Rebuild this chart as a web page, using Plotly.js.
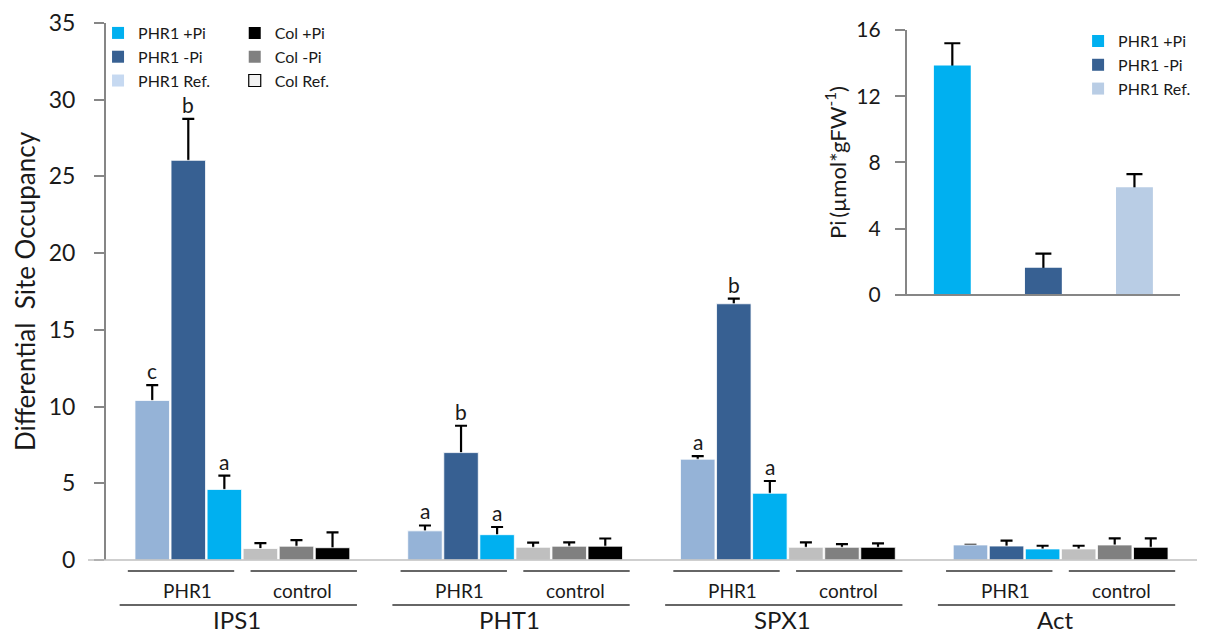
<!DOCTYPE html>
<html><head><meta charset="utf-8">
<script src="https://cdn.plot.ly/plotly-3.0.1.min.js"></script>
<style>html,body{margin:0;padding:0;background:#fff}</style>
</head><body><div id="chart" style="width:1210px;height:636px"></div>
<script>
// ---- data ----
const genes = ['IPS1', 'PHT1', 'SPX1', 'Act'];
const seriesNames = ['PHR1 Ref.', 'PHR1 -Pi', 'PHR1 +Pi', 'Col Ref.', 'Col -Pi', 'Col +Pi'];
const phr1Ref = [10.4, 1.9, 6.57, 0.98];
const phr1RefErr = [1.0, 0.35, 0.2, null];
const phr1Minus = [26.05, 7.0, 16.7, 0.91];
const phr1MinusErr = [2.7, 1.75, 0.33, 0.35];
const phr1Plus = [4.6, 1.65, 4.35, 0.72];
const phr1PlusErr = [0.9, 0.5, 0.8, 0.21];
const colRef = [0.75, 0.83, 0.83, 0.72];
const colRefErr = [0.35, 0.3, 0.32, 0.21];
const colMinus = [0.9, 0.9, 0.83, 0.98];
const colMinusErr = [0.4, 0.25, 0.21, 0.43];
const colPlus = [0.8, 0.9, 0.83, 0.83];
const colPlusErr = [1.0, 0.5, 0.26, 0.58];
const letters = [['c', 'b', 'a'], ['a', 'b', 'a'], ['a', 'b', 'a'], ['', '', '']];
const groupLabels = ['PHR1', 'control'];
const legendNames1 = ['PHR1 +Pi', 'PHR1 -Pi', 'PHR1 Ref.'];
const legendNames2 = ['Col +Pi', 'Col -Pi', 'Col Ref.'];
const insetCats = ['PHR1 +Pi', 'PHR1 -Pi', 'PHR1 Ref.'];
const insetPi = [13.85, 1.65, 6.5];
const insetPiErr = [1.35, 0.85, 0.8];

// ---- styles ----
const barColors = ['#95b3d7', '#376092', '#00b0f0', '#bfbfbf', '#808080', '#000000'];
const legendColors1 = ['#00b0f0', '#376092', '#c6d9f1'];
const legendColors2 = ['#000000', '#808080', '#f2f2f2'];
const insetColors = ['#00b0f0', '#376092', '#b9cde5'];
const FONT = 'Lato, "Noto Sans", "DejaVu Sans", sans-serif';
const TXT = '#1a1a1a';

const vals = [phr1Ref, phr1Minus, phr1Plus, colRef, colMinus, colPlus];
const errs = [phr1RefErr, phr1MinusErr, phr1PlusErr, colRefErr, colMinusErr, colPlusErr];
const slot = 0.1322, bw = 0.1265;
const pos = (gi, i) => gi + (i - 2.5) * slot;

const traces = [];
// whiskers (drawn under the bars: bars sit on an overlaying y axis)
vals.forEach((v, i) => {
  traces.push({
    type: 'scatter', mode: 'markers', x: genes.map((g, gi) => pos(gi, i)), y: v,
    marker: {size: 1, opacity: 0},
    error_y: {type: 'data', symmetric: false, array: errs[i],
              arrayminus: v.map((y, k) => errs[i][k] == null ? null : y),
              color: '#000', thickness: 2.2, width: 6},
    showlegend: false, hoverinfo: 'skip', xaxis: 'x', yaxis: 'y'
  });
});
vals.forEach((v, i) => {
  traces.push({
    type: 'bar', x: genes.map((g, gi) => pos(gi, i)), y: v, name: seriesNames[i],
    width: bw, marker: {color: barColors[i], line: {color: '#ffffff', width: 0.8}},
    showlegend: false, hoverinfo: 'skip', xaxis: 'x', yaxis: 'y4'
  });
});
// legend entries (no marks)
legendNames1.forEach((n, i) => traces.push({
  type: 'bar', x: [null], y: [null], name: n, legend: 'legend',
  marker: {color: legendColors1[i], line: {width: 0}},
  xaxis: 'x3', yaxis: 'y3', hoverinfo: 'skip'
}));
legendNames2.forEach((n, i) => traces.push({
  type: 'bar', x: [null], y: [null], name: n, legend: 'legend2',
  marker: {color: legendColors2[i], line: {color: i === 2 ? '#000' : 'rgba(0,0,0,0)', width: i === 2 ? 1.2 : 0}},
  xaxis: 'x3', yaxis: 'y3', hoverinfo: 'skip'
}));
// inset
traces.push({
  type: 'scatter', mode: 'markers', x: insetCats, y: insetPi, marker: {size: 1, opacity: 0},
  error_y: {type: 'data', symmetric: false, array: insetPiErr, arrayminus: insetPi,
            color: '#000', thickness: 2.2, width: 8},
  showlegend: false, hoverinfo: 'skip', xaxis: 'x2', yaxis: 'y2'
});
insetCats.forEach((c, i) => traces.push({
  type: 'bar', x: [c], y: [insetPi[i]], name: c, legend: 'legend3', width: 0.405,
  marker: {color: insetColors[i], line: {width: 0}},
  xaxis: 'x2', yaxis: 'y5', hoverinfo: 'skip'
}));

const shapes = [];
const annotations = [];
shapes.push({type: 'line', xref: 'paper', yref: 'paper', x0: -0.0165, x1: 1, y0: 0, y1: 0,
             line: {color: '#bfbfbf', width: 1.5}, layer: 'above'});
shapes.push({type: 'line', xref: 'paper', yref: 'paper', x0: 0.725, x1: 0.9844, y0: 0.4935, y1: 0.4935,
             line: {color: '#868686', width: 2}, layer: 'above'});

genes.forEach((g, gi) => {
  const lineSty = {color: '#333333', width: 1.3};
  shapes.push({type: 'line', xref: 'x', yref: 'paper', x0: gi - 0.42, x1: gi - 0.03, y0: -0.0205, y1: -0.0205, line: lineSty});
  shapes.push({type: 'line', xref: 'x', yref: 'paper', x0: gi + 0.03, x1: gi + 0.42, y0: -0.0205, y1: -0.0205, line: lineSty});
  shapes.push({type: 'line', xref: 'x', yref: 'paper', x0: gi - 0.45, x1: gi + 0.42, y0: -0.0838, y1: -0.0838, line: lineSty});
  annotations.push({xref: 'x', yref: 'paper', x: gi - 0.203, y: -0.0559, yanchor: 'middle', xanchor: 'center',
                    text: groupLabels[0], showarrow: false, font: {size: 19, family: FONT, color: TXT}});
  annotations.push({xref: 'x', yref: 'paper', x: gi + 0.222, y: -0.0559, yanchor: 'middle', xanchor: 'center',
                    text: groupLabels[1], showarrow: false, font: {size: 19, family: FONT, color: TXT}});
  annotations.push({xref: 'x', yref: 'paper', x: gi - 0.02, y: -0.1395, yanchor: 'bottom', xanchor: 'center',
                    text: g, showarrow: false, font: {size: 24, family: FONT, color: TXT}, borderpad: 0});
  for (let i = 0; i < 3; i++) {
    if (!letters[gi][i]) continue;
    const top = vals[i][gi] + (errs[i][gi] || 0);
    annotations.push({xref: 'x', yref: 'y', x: pos(gi, i), y: top, yanchor: 'bottom', xanchor: 'center',
                      text: letters[gi][i], showarrow: false, font: {size: 21, family: FONT, color: TXT}});
  }
});

const legendBase = {xanchor: 'left', yanchor: 'top', bgcolor: 'rgba(0,0,0,0)', borderwidth: 0,
                    font: {size: 16, family: FONT, color: TXT}, tracegroupgap: 0, itemclick: false, itemdoubleclick: false};

const hidden = {visible: false, showgrid: false, zeroline: false};
const layout = {
  width: 1210, height: 636,
  margin: {l: 106, r: 13, t: 23, b: 76},
  paper_bgcolor: '#ffffff', plot_bgcolor: 'rgba(0,0,0,0)',
  font: {family: FONT, color: TXT},
  barmode: 'overlay',
  xaxis: {type: 'linear', range: [-0.5, 3.5], showticklabels: false, ticks: '', showline: false,
          showgrid: false, zeroline: false, fixedrange: true},
  yaxis: {range: [0, 35], tick0: 0, dtick: 5, ticks: 'outside', ticklen: 10, tickwidth: 2, tickcolor: '#868686',
          showline: true, linecolor: '#868686', linewidth: 2, showgrid: false, zeroline: false,
          tickfont: {size: 23, family: FONT, color: TXT}, ticklabelstandoff: 14,
          title: {text: 'Differential\u00a0 Site Occupancy', font: {size: 26, family: FONT, color: TXT}, standoff: 6}},
  yaxis4: Object.assign({overlaying: 'y', range: [0, 35]}, hidden),
  xaxis2: {domain: [0.734, 0.9844], anchor: 'y2', type: 'category', range: [-0.5, 2.5], showticklabels: false,
           ticks: '', showline: false, showgrid: false, zeroline: false},
  yaxis2: {domain: [0.4935, 0.987], anchor: 'x2', range: [0, 16], tick0: 0, dtick: 4, ticks: 'outside', ticklen: 10,
           tickwidth: 2, tickcolor: '#868686', showline: true, linecolor: '#868686', linewidth: 2, showgrid: false,
           zeroline: false, tickfont: {size: 21, family: FONT, color: TXT}, ticklabelstandoff: 10,
           title: {text: 'Pi\u2009(µmol*gFW<sup>-1</sup>)', font: {size: 22, family: FONT, color: TXT}, standoff: 4}},
  yaxis5: Object.assign({overlaying: 'y2', range: [0, 16], anchor: 'x2'}, hidden),
  xaxis3: {domain: [0, 0.01], anchor: 'y3', visible: false},
  yaxis3: {domain: [0, 0.01], anchor: 'x3', visible: false},
  legend: Object.assign({x: -0.0073, y: 1.013}, legendBase),
  legend2: Object.assign({x: 0.118, y: 1.013}, legendBase),
  legend3: Object.assign({x: 0.891, y: 0.998}, legendBase),
  shapes: shapes,
  annotations: annotations,
  showlegend: true
};

Plotly.newPlot('chart', traces, layout, {displayModeBar: false, staticPlot: true});
</script>
</body></html>
